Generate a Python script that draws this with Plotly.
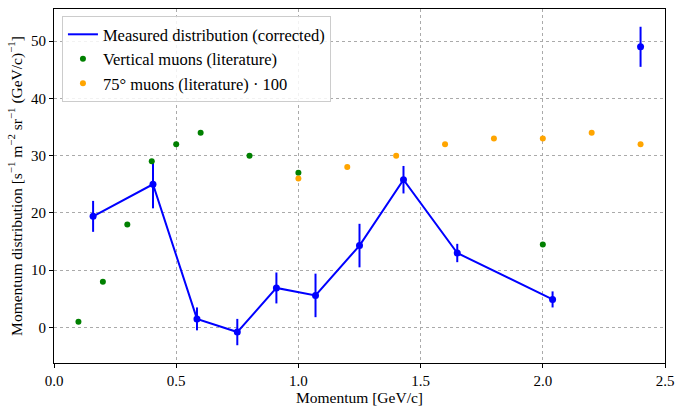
import plotly.graph_objects as go

meas_x = [0.16, 0.405, 0.585, 0.75, 0.91, 1.07, 1.25, 1.43, 1.65, 2.04]
meas_y = [19.4, 25.0, 1.5, -0.8, 6.9, 5.6, 14.3, 25.8, 13.0, 4.9]
meas_err = [2.7, 4.2, 2.0, 2.3, 2.7, 3.8, 3.8, 2.4, 1.6, 1.4]
out_x = [2.4]
out_y = [49.0]
out_err = [3.5]

vert_x = [0.1, 0.2, 0.3, 0.4, 0.5, 0.6, 0.8, 1.0, 2.0]
vert_y = [1.0, 8.0, 18.0, 29.0, 32.0, 34.0, 30.0, 27.0, 14.5]

deg75_x = [1.0, 1.2, 1.4, 1.6, 1.8, 2.0, 2.2, 2.4]
deg75_y = [26.0, 28.0, 30.0, 32.0, 33.0, 33.0, 34.0, 32.0]

FONT = "Liberation Serif"
fig = go.Figure()
# legend entry (line only)
fig.add_trace(go.Scatter(
    x=[None], y=[None], mode="lines", line=dict(color="blue", width=2),
    name="Measured distribution (corrected)"))
fig.add_trace(go.Scatter(
    x=meas_x, y=meas_y, mode="lines+markers",
    line=dict(color="blue", width=2), marker=dict(color="blue", size=7),
    error_y=dict(type="data", array=meas_err, color="blue", thickness=2, width=0),
    showlegend=False))
fig.add_trace(go.Scatter(
    x=vert_x, y=vert_y, mode="markers", marker=dict(color="green", size=6),
    name="Vertical muons (literature)"))
fig.add_trace(go.Scatter(
    x=deg75_x, y=deg75_y, mode="markers", marker=dict(color="orange", size=6),
    name="75° muons (literature) · 100"))
fig.add_trace(go.Scatter(
    x=out_x, y=out_y, mode="markers", marker=dict(color="blue", size=7),
    error_y=dict(type="data", array=out_err, color="blue", thickness=2, width=0),
    showlegend=False))

axis_common = dict(
    showline=True, linecolor="black", linewidth=1.2, mirror=True,
    ticks="outside", ticklen=4, tickcolor="black",
    showgrid=True, gridcolor="#aaaaaa", griddash="dot", gridwidth=1,
    zeroline=False, tickfont=dict(family=FONT, size=15, color="black"),
)
fig.update_xaxes(range=[0, 2.5], dtick=0.5, tickformat=".1f",
                 title=dict(text="Momentum [GeV/c]", font=dict(family=FONT, size=15.5, color="black"), standoff=2),
                 **axis_common)
fig.update_yaxes(range=[-6.2, 55.6], dtick=10,
                 title=dict(text="Momentum distribution [s<sup>−1</sup> m<sup>−2</sup> sr<sup>−1</sup> (GeV/c)<sup>−1</sup>]",
                            font=dict(family=FONT, size=15.5, color="black"), standoff=4),
                 **axis_common)
fig.update_layout(
    width=682, height=410,
    margin=dict(l=54, r=10, t=8, b=40),
    plot_bgcolor="white", paper_bgcolor="white",
    font=dict(family=FONT, size=15, color="black"),
    legend=dict(x=0.013, y=0.98, xanchor="left", yanchor="top",
                bgcolor="rgba(255,255,255,0.85)", bordercolor="#cccccc", borderwidth=1,
                font=dict(family=FONT, size=16.5), tracegroupgap=0, itemwidth=30),
)
fig.write_html("out.html")
